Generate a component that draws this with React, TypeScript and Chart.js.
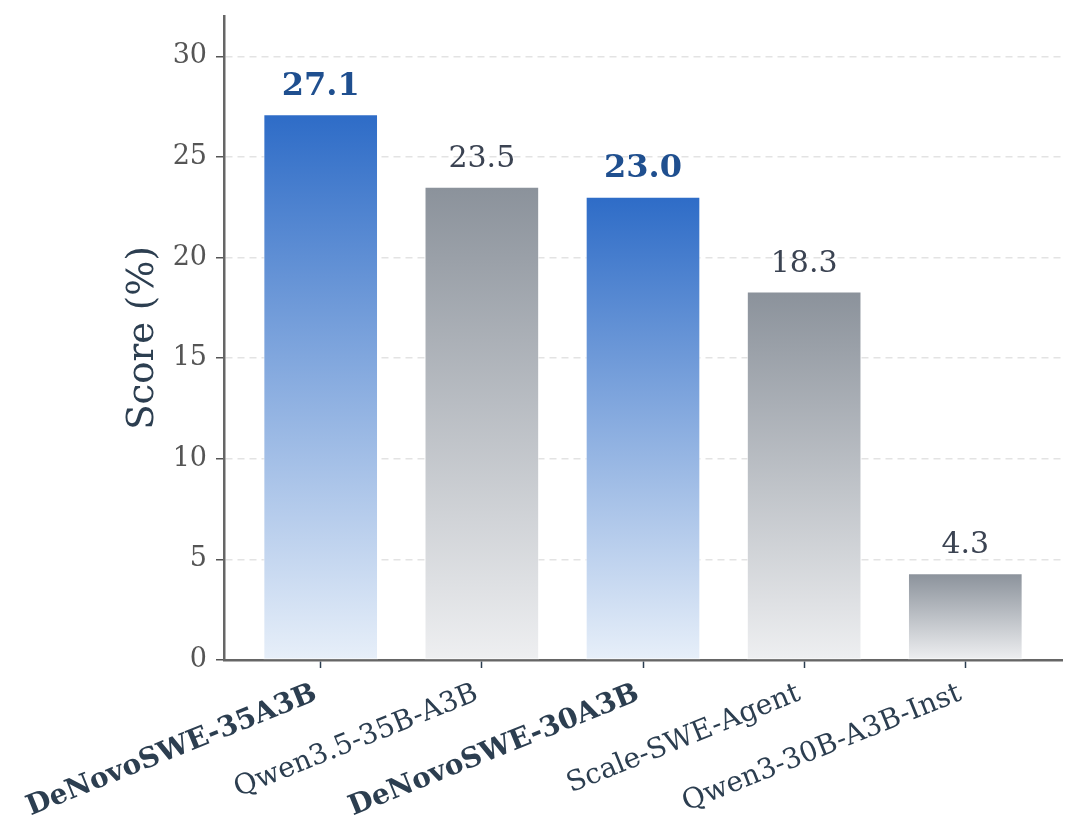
import React, { useEffect, useRef } from 'react';
import { Chart, registerables } from 'chart.js';

Chart.register(...registerables);

const models = ['DeNovoSWE-35A3B', 'Qwen3.5-35B-A3B', 'DeNovoSWE-30A3B', 'Scale-SWE-Agent', 'Qwen3-30B-A3B-Inst'];
const scores = [27.1, 23.5, 23.0, 18.3, 4.3];
const ours = [true, false, true, false, false];
const yTicks = [0, 5, 10, 15, 20, 25, 30];

const FONT = "'DejaVu Serif', serif";

const valueLabels = {
  id: 'valueLabels',
  afterDatasetsDraw(chart: Chart) {
    const { ctx } = chart;
    const meta = chart.getDatasetMeta(0);
    ctx.save();
    ctx.textAlign = 'center';
    ctx.textBaseline = 'alphabetic';
    meta.data.forEach((bar: any, i: number) => {
      ctx.font = ours[i] ? `bold 32px ${FONT}` : `30px ${FONT}`;
      ctx.fillStyle = ours[i] ? '#1f4f8f' : '#3b4352';
      ctx.fillText(scores[i].toFixed(1), bar.x, bar.y - 20);
    });
    ctx.restore();
  },
};

const App: React.FC = () => {
  const chartRef = useRef<HTMLCanvasElement>(null);
  const chartInstance = useRef<Chart | null>(null);

  useEffect(() => {
    document.body.style.margin = '0';
    if (!chartRef.current) return;
    const ctx = chartRef.current.getContext('2d');
    if (!ctx) return;
    if (chartInstance.current) chartInstance.current.destroy();

    chartInstance.current = new Chart(ctx, {
      type: 'bar',
      data: {
        datasets: [
          {
            data: scores.map((v, i) => ({ x: i, y: v })),
            barThickness: 114,
            borderWidth: 1,
            borderColor: 'rgba(255,255,255,0.55)',
            borderSkipped: false,
            backgroundColor: (c: any) => {
              const chart = c.chart;
              if (!chart.chartArea) return '#8b929b';
              const y = chart.scales.y;
              const top = y.getPixelForValue(scores[c.dataIndex]);
              const bottom = y.getPixelForValue(0);
              const g = chart.ctx.createLinearGradient(0, top, 0, bottom);
              if (ours[c.dataIndex]) {
                g.addColorStop(0, '#2e6cc7');
                g.addColorStop(1, '#e7eff9');
              } else {
                g.addColorStop(0, '#8b929b');
                g.addColorStop(1, '#eeeff1');
              }
              return g;
            },
          },
        ],
      },
      options: {
        animation: false,
        responsive: false,
        layout: { padding: { left: 121, top: 16, right: 18, bottom: 0 } },
        plugins: { legend: { display: false }, tooltip: { enabled: false } },
        scales: {
          x: {
            type: 'linear',
            min: -0.6,
            max: 4.6,
            offset: false,
            afterBuildTicks: (axis: any) => {
              axis.ticks = models.map((_, i) => ({ value: i }));
            },
            afterFit: (axis: any) => {
              axis.height = 178;
              axis.paddingLeft = 0;
              axis.paddingRight = 0;
            },
            grid: {
              offset: false,
              drawOnChartArea: false,
              drawTicks: true,
              tickLength: 8,
              tickWidth: 1.5,
              tickColor: '#2c3e50',
            },
            border: { color: '#666666', width: 2.5 },
            ticks: {
              autoSkip: false,
              minRotation: 22,
              maxRotation: 22,
              padding: 9,
              labelOffset: -5,
              color: '#2c3e50',
              font: (c: any) => ({
                family: FONT,
                size: 28,
                weight: ours[c.index] ? 'bold' : 'normal',
              }),
              callback: (value: any) => models[value as number],
            },
          },
          y: {
            min: 0,
            max: 32,
            afterBuildTicks: (axis: any) => {
              axis.ticks = yTicks.map((v) => ({ value: v }));
            },
            afterFit: (axis: any) => {
              axis.width = 224 - 121;
              axis.paddingTop = 0;
              axis.paddingBottom = 0;
            },
            grid: {
              color: (c: any) => (c.tick && c.tick.value === 0 ? 'rgba(0,0,0,0)' : '#e3e3e3'),
              lineWidth: 1.5,
              tickLength: 8,
              tickWidth: 1.5,
              tickColor: '#555555',
            },
            border: { color: '#666666', width: 2.5, dash: [7, 5] },
            ticks: {
              padding: 9,
              color: '#555555',
              font: { family: FONT, size: 27 },
            },
            title: {
              display: true,
              text: 'Score (%)',
              color: '#2c3e50',
              padding: 0,
              font: { family: FONT, size: 37 },
            },
          },
        },
      },
      plugins: [valueLabels],
    });

    return () => {
      if (chartInstance.current) {
        chartInstance.current.destroy();
        chartInstance.current = null;
      }
    };
  }, []);

  return (
    <div style={{ width: 1080, height: 838, background: '#ffffff' }}>
      <canvas ref={chartRef} width={1080} height={838} style={{ width: 1080, height: 838 }} />
    </div>
  );
};

export default App;
